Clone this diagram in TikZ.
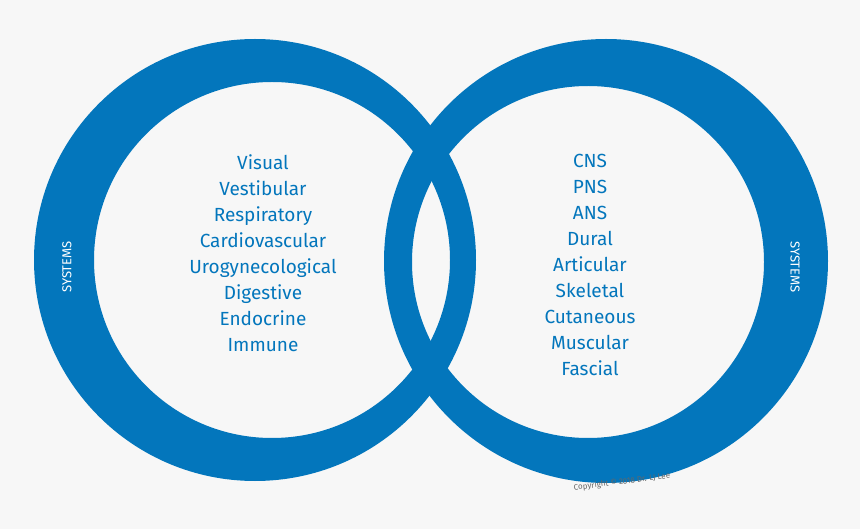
\documentclass[tikz,border=0pt]{standalone}
\usepackage{fontspec}
\setmainfont{Fira Sans}
\begin{document}
\begin{tikzpicture}[x=1pt,y=-1pt,
  ring/.style={fill=ringblue,even odd rule},
  list/.style={text=ringblue,font=\fontsize{19}{26}\selectfont,align=center,inner sep=0},
  sys/.style={text=white,font=\fontsize{13}{15}\selectfont,inner sep=0}]
\definecolor{ringblue}{HTML}{0376BC}
\definecolor{bg}{HTML}{F7F7F7}
\fill[bg] (0,0) rectangle (860,529);
\useasboundingbox (0,0) rectangle (860,529);
\fill[ring] (255,260) circle (221) (272,260) circle (178);
\fill[ring] (606,261) circle (222) (588,262) circle (176);
\node[list,anchor=north] (left) at (263,154) {Visual\\Vestibular\\Respiratory\\Cardiovascular\\Urogynecological\\Digestive\\Endocrine\\Immune};
\node[list,anchor=north] (right) at (590,154) {CNS\\PNS\\ANS\\Dural\\Articular\\Skeletal\\Cutaneous\\Muscular\\Fascial};
\node[sys,rotate=90] (s1) at (67,267) {SYSTEMS};
\node[sys,rotate=-90] (s2) at (795,267) {SYSTEMS};
\node[text=gray!80!black,font=\fontsize{8}{9}\selectfont,rotate=7,inner sep=0] (copy) at (622,482) {Copyright © 2018 Dr. LJ Lee};
\end{tikzpicture}
\end{document}
